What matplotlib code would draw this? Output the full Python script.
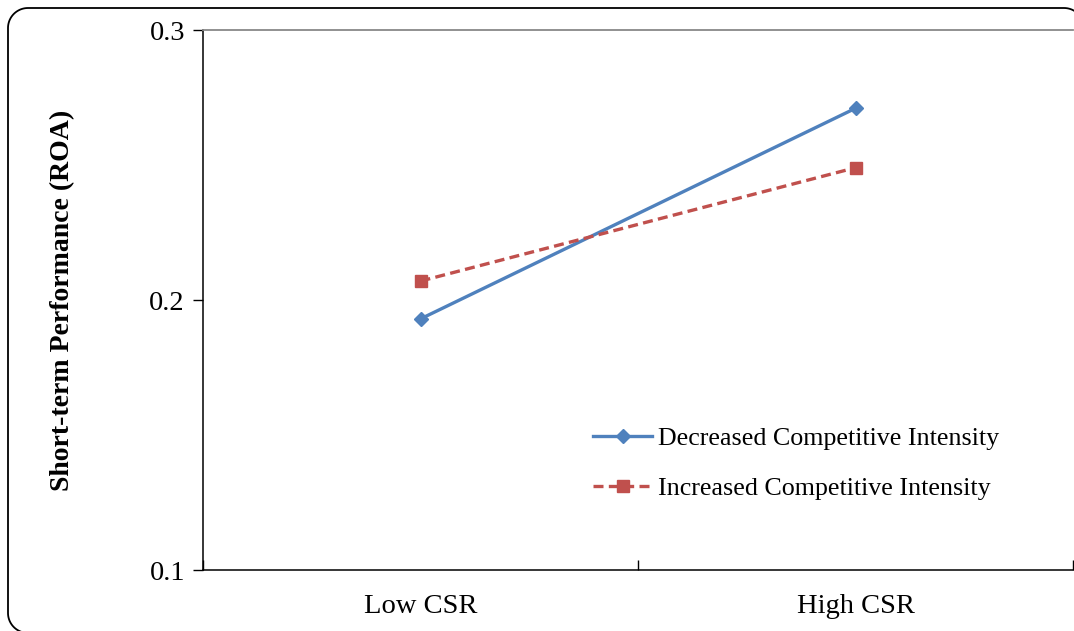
import numpy as np
import matplotlib.pyplot as plt
from matplotlib.lines import Line2D

categories = ["Low CSR", "High CSR"]
decreased = [0.193, 0.271]
increased = [0.207, 0.249]
series_names = ["Decreased Competitive Intensity", "Increased Competitive Intensity"]

plt.rcParams["font.family"] = ["Liberation Serif", "DejaVu Serif"]

fig = plt.figure(figsize=(10.74, 6.31), dpi=100)
W, H = 1074, 631


def corner(cx, cy, r, a0, a1):
    t = np.radians(np.linspace(a0, a1, 20))
    return cx + r * np.cos(t), cy - r * np.sin(t)


# rounded chart border (Excel style), cut off at right and bottom; pixel coords, y down
r = 20
xs, ys = [], []
for cx, cy, a0, a1 in [(1064, 8 + r, 0, 90), (8 + r, 8 + r, 90, 180), (8 + r, 633 - r, 180, 270)]:
    px, py = corner(cx, cy, r, a0, a1)
    xs.extend(px)
    ys.extend(py)
xs = [1084] + xs + [200]
ys = [300] + ys + [633]
fig.add_artist(Line2D(np.array(xs) / W, 1 - np.array(ys) / H, transform=fig.transFigure,
                      color="black", linewidth=1.3))

ax = fig.add_axes([203 / W, 1 - 570 / H, 870 / W, 540 / H])

x = [0.5, 1.5]
ax.plot(x, decreased, color="#4F81BD", linewidth=2.4, marker="D", markersize=7,
        label=series_names[0])
ax.plot(x, increased, color="#C0504D", linewidth=2.4, linestyle=(0, (3, 1.6)),
        marker="s", markersize=8, label=series_names[1])

ax.set_xlim(0, 2)
ax.set_ylim(0.1, 0.3)
ax.set_yticks([0.1, 0.2, 0.3])
ax.set_yticklabels(["0.1", "0.2", "0.3"])
ax.set_xticks([0, 1, 2])
ax.set_xticklabels([])
ax.set_xticks(x, minor=True)
ax.set_xticklabels(categories, minor=True)
ax.tick_params(axis="x", which="minor", length=0, pad=17, labelsize=20.5)
ax.tick_params(axis="x", which="major", direction="in", length=7, width=1)
ax.tick_params(axis="y", direction="out", length=7, width=1, pad=6, labelsize=20.5)

ax.spines["right"].set_visible(False)
ax.spines["top"].set_color("#888888")
ax.spines["top"].set_linewidth(1.3)
ax.spines["left"].set_linewidth(1.1)
ax.spines["bottom"].set_linewidth(1.1)

ax.set_ylabel("Short-term Performance (ROA)", fontsize=20, fontweight="bold")
ax.yaxis.set_label_coords(-0.147, 0.5)

ax.legend(loc="upper left", bbox_to_anchor=(0.436, 0.285), frameon=False, fontsize=18.7,
          handlelength=2.3, handletextpad=0.2, labelspacing=1.05, borderaxespad=0)

fig.savefig("out.png", dpi=100)
